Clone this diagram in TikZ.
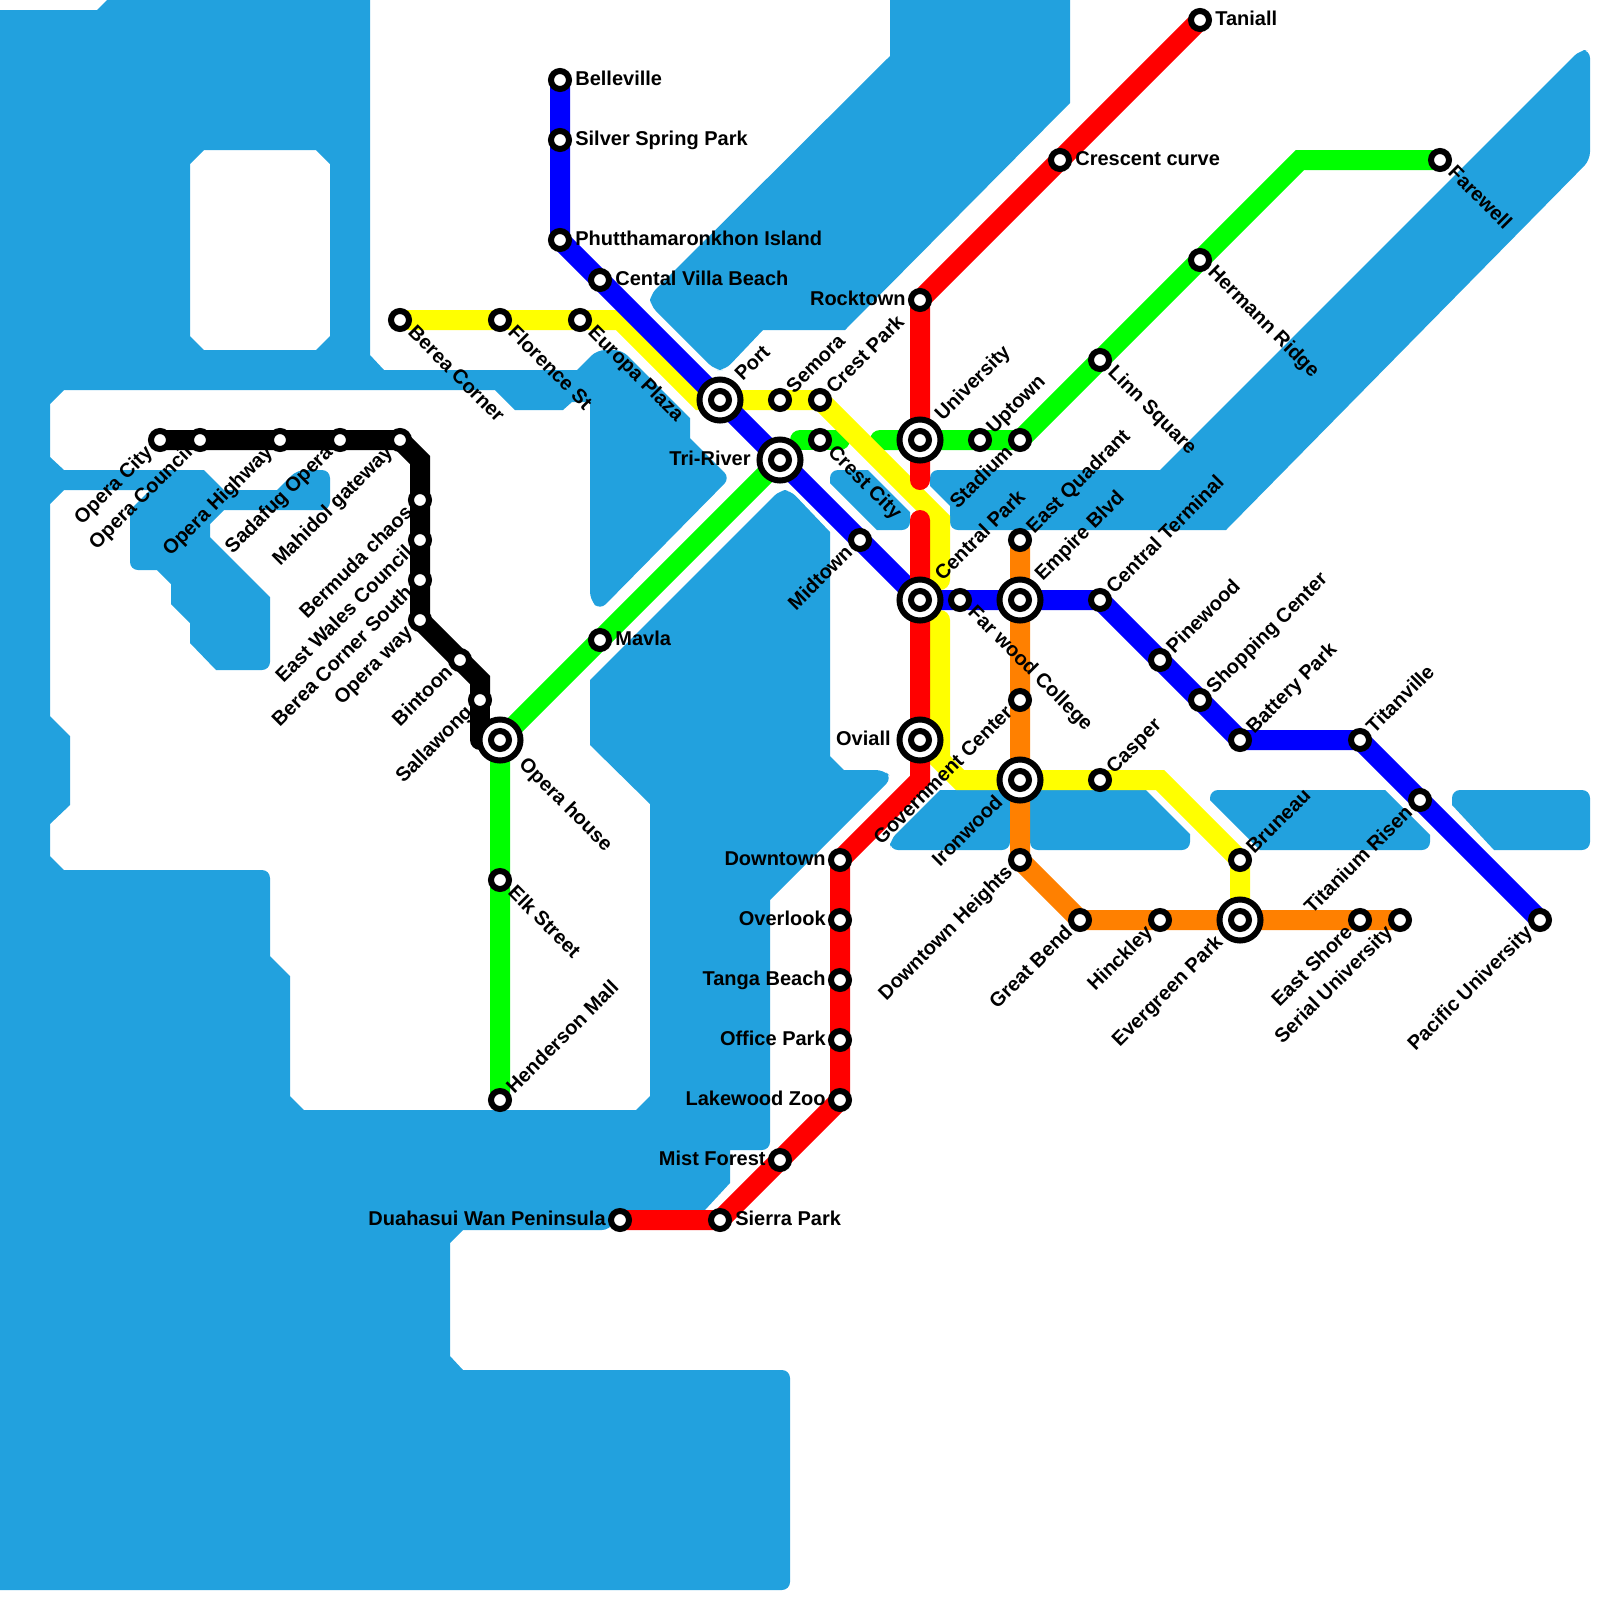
\documentclass[tikz,border=0pt]{standalone}
\usepackage{xcolor}
\usepackage{fontspec}
\setmainfont{Liberation Sans}
\usetikzlibrary{backgrounds}
\definecolor{watercol}{HTML}{22A1DE}
\definecolor{orangeline}{HTML}{FF8000}
\definecolor{yellowline}{HTML}{FFFF00}
\definecolor{redline}{HTML}{FF0000}
\definecolor{greenline}{HTML}{00FF00}
\definecolor{blueline}{HTML}{0000FF}

\begin{document}
\begin{tikzpicture}[x=0.025cm,y=-0.025cm,
    water/.style={fill=watercol,even odd rule},
    rc/.style={rounded corners=0.2cm},
    sc/.style={sharp corners},
    metro/.style={line width=0.5cm,line cap=round},
    stn/.style={circle,draw=black,fill=white,line width=0.15cm,minimum size=0.45cm,inner sep=0pt},
    ringstn/.style={circle,draw=black,fill=white,line width=0.15cm,minimum size=1.025cm,inner sep=0pt},
    lbl/.style={inner sep=0pt,text height=10.3pt,text depth=3pt,font=\bfseries\fontsize{14.23}{17}\selectfont},
    lblE/.style={lbl,anchor=west,xshift=10.7pt},
    lblW/.style={lbl,anchor=east,xshift=-10pt},
    lblWx/.style={lbl,anchor=east,xshift=-20.7pt},
    lblNE/.style={lbl,anchor=west,xshift=7.5pt,yshift=6.5pt,rotate=45},
    lblNEx/.style={lbl,anchor=west,xshift=13.5pt,yshift=15.5pt,rotate=45},
    lblSE/.style={lbl,anchor=west,xshift=7.5pt,yshift=-7pt,rotate=-45},
    lblSEx/.style={lbl,anchor=west,xshift=15.4pt,yshift=-15.4pt,rotate=-45},
    lblSW/.style={lbl,anchor=east,xshift=-7pt,yshift=-7pt,rotate=45},
    lblSWx/.style={lbl,anchor=east,xshift=-14pt,yshift=-14pt,rotate=45}]
\useasboundingbox (0,0) rectangle (1600,1600);

\node[stn] (belleville) at (560,80) {};
\node[lblE] (bellevillelbl) at (belleville) {Belleville};
\node[stn] (silverspring) at (560,140) {};
\node[lblE] (silverspringlbl) at (silverspring) {Silver Spring Park};
\node[stn] (phuttha) at (560,240) {};
\node[lblE] (phutthalbl) at (phuttha) {Phutthamaronkhon Island};
\node[stn] (cental) at (600,280) {};
\node[lblE] (centallbl) at (cental) {Cental Villa Beach};
\node[ringstn] (portring) at (720,400) {};
\node[stn] (port) at (portring) {};
\node[lblNEx] (portlbl) at (port) {Port};
\node[ringstn] (triring) at (780,460) {};
\node[stn] (triver) at (triring) {};
\node[lblWx] (triverlbl) at (triver) {Tri-River};
\node[stn] (midtown) at (860,540) {};
\node[lblSW] (midtownlbl) at (midtown) {Midtown};
\node[ringstn] (centralring) at (920,600) {};
\node[stn] (central) at (centralring) {};
\node[lblNEx] (centrallbl) at (central) {Central Park};
\node[stn] (farwood) at (960,600) {};
\node[lblSE] (farwoodlbl) at (farwood) {Far wood College};
\node[ringstn] (empirering) at (1020,600) {};
\node[stn] (empire) at (empirering) {};
\node[lblNEx] (empirelbl) at (empire) {Empire Blvd};
\node[stn] (terminal) at (1100,600) {};
\node[lblNE] (terminallbl) at (terminal) {Central Terminal};
\node[stn] (pinewood) at (1160,660) {};
\node[lblNE] (pinewoodlbl) at (pinewood) {Pinewood};
\node[stn] (shopping) at (1200,700) {};
\node[lblNE] (shoppinglbl) at (shopping) {Shopping Center};
\node[stn] (battery) at (1240,740) {};
\node[lblNE] (batterylbl) at (battery) {Battery Park};
\node[stn] (titanville) at (1360,740) {};
\node[lblNE] (titanvillelbl) at (titanville) {Titanville};
\node[stn] (titanium) at (1420,800) {};
\node[lblSW] (titaniumlbl) at (titanium) {Titanium Risen};
\node[stn] (pacific) at (1540,920) {};
\node[lblSW] (pacificlbl) at (pacific) {Pacific University};

\node[stn] (operacity) at (160,440) {};
\node[lblSW] (operacitylbl) at (operacity) {Opera City};
\node[stn] (council) at (200,440) {};
\node[lblSW] (councillbl) at (council) {Opera Council};
\node[stn] (highway) at (280,440) {};
\node[lblSW] (highwaylbl) at (highway) {Opera Highway};
\node[stn] (sadafug) at (340,440) {};
\node[lblSW] (sadafuglbl) at (sadafug) {Sadafug Opera};
\node[stn] (mahidol) at (400,440) {};
\node[lblSW] (mahidollbl) at (mahidol) {Mahidol gateway};
\node[stn] (bermuda) at (420,500) {};
\node[lblSW] (bermudalbl) at (bermuda) {Bermuda chaos};
\node[stn] (eastwales) at (420,540) {};
\node[lblSW] (eastwaleslbl) at (eastwales) {East Wales Council};
\node[stn] (bereasouth) at (420,580) {};
\node[lblSW] (bereasouthlbl) at (bereasouth) {Berea Corner South};
\node[stn] (operaway) at (420,620) {};
\node[lblSW] (operawaylbl) at (operaway) {Opera way};
\node[stn] (bintoon) at (460,660) {};
\node[lblSW] (bintoonlbl) at (bintoon) {Bintoon};
\node[stn] (sallawong) at (480,700) {};
\node[lblSW] (sallawonglbl) at (sallawong) {Sallawong};
\node[ringstn] (operaring) at (500,740) {};
\node[stn] (operahouse) at (operaring) {};
\node[lblSEx] (operahouselbl) at (operahouse) {Opera house};
\node[stn] (elk) at (500,880) {};
\node[lblSE] (elklbl) at (elk) {Elk Street};
\node[stn] (henderson) at (500,1100) {};
\node[lblNE] (hendersonlbl) at (henderson) {Henderson Mall};
\node[stn] (mavla) at (600,640) {};
\node[lblE] (mavlalbl) at (mavla) {Mavla};

\node[stn] (bereacorner) at (400,320) {};
\node[lblSE] (bereacornerlbl) at (bereacorner) {Berea Corner};
\node[stn] (florence) at (500,320) {};
\node[lblSE] (florencelbl) at (florence) {Florence St};
\node[stn] (europa) at (580,320) {};
\node[lblSE] (europalbl) at (europa) {Europa Plaza};
\node[stn] (semora) at (780,400) {};
\node[lblNE] (semoralbl) at (semora) {Semora};
\node[stn] (crestpark) at (820,400) {};
\node[lblNE] (crestparklbl) at (crestpark) {Crest Park};
\node[stn] (crestcity) at (820,440) {};
\node[lblSE] (crestcitylbl) at (crestcity) {Crest City};
\node[ringstn] (univring) at (920,440) {};
\node[stn] (university) at (univring) {};
\node[lblNEx] (universitylbl) at (university) {University};
\node[stn] (uptown) at (980,440) {};
\node[lblNE] (uptownlbl) at (uptown) {Uptown};
\node[stn] (stadium) at (1020,440) {};
\node[lblSW] (stadiumlbl) at (stadium) {Stadium};
\node[stn] (linn) at (1100,360) {};
\node[lblSE] (linnlbl) at (linn) {Linn Square};
\node[stn] (hermann) at (1200,260) {};
\node[lblSE] (hermannlbl) at (hermann) {Hermann Ridge};
\node[stn] (farewell) at (1440,160) {};
\node[lblSE] (farewelllbl) at (farewell) {Farewell};

\node[stn] (taniall) at (1200,20) {};
\node[lblE] (tanialllbl) at (taniall) {Taniall};
\node[stn] (crescent) at (1060,160) {};
\node[lblE] (crescentlbl) at (crescent) {Crescent curve};
\node[stn] (rocktown) at (920,300) {};
\node[lblW] (rocktownlbl) at (rocktown) {Rocktown};
\node[ringstn] (oviallring) at (920,740) {};
\node[stn] (oviall) at (oviallring) {};
\node[lblWx] (ovialllbl) at (oviall) {Oviall};
\node[stn] (downtown) at (840,860) {};
\node[lblW] (downtownlbl) at (downtown) {Downtown};
\node[stn] (overlook) at (840,920) {};
\node[lblW] (overlooklbl) at (overlook) {Overlook};
\node[stn] (tanga) at (840,980) {};
\node[lblW] (tangalbl) at (tanga) {Tanga Beach};
\node[stn] (office) at (840,1040) {};
\node[lblW] (officelbl) at (office) {Office Park};
\node[stn] (lakewood) at (840,1100) {};
\node[lblW] (lakewoodlbl) at (lakewood) {Lakewood Zoo};
\node[stn] (mist) at (780,1160) {};
\node[lblW] (mistlbl) at (mist) {Mist Forest};
\node[stn] (sierra) at (720,1220) {};
\node[lblE] (sierralbl) at (sierra) {Sierra Park};
\node[stn] (duahasui) at (620,1220) {};
\node[lblW] (duahasuilbl) at (duahasui) {Duahasui Wan Peninsula};

\node[stn] (eastquad) at (1020,540) {};
\node[lblNE] (eastquadlbl) at (eastquad) {East Quadrant};
\node[stn] (government) at (1020,700) {};
\node[lblSW] (governmentlbl) at (government) {Government Center};
\node[ringstn] (ironring) at (1020,780) {};
\node[stn] (ironwood) at (ironring) {};
\node[lblSWx] (ironwoodlbl) at (ironwood) {Ironwood};
\node[stn] (heights) at (1020,860) {};
\node[lblSW] (heightslbl) at (heights) {Downtown Heights};
\node[stn] (greatbend) at (1080,920) {};
\node[lblSW] (greatbendlbl) at (greatbend) {Great Bend};
\node[stn] (hinckley) at (1160,920) {};
\node[lblSW] (hinckleylbl) at (hinckley) {Hinckley};
\node[ringstn] (evergreenring) at (1240,920) {};
\node[stn] (evergreen) at (evergreenring) {};
\node[lblSWx] (evergreenlbl) at (evergreen) {Evergreen Park};
\node[stn] (eastshore) at (1360,920) {};
\node[lblSW] (eastshorelbl) at (eastshore) {East Shore};
\node[stn] (serial) at (1400,920) {};
\node[lblSW] (seriallbl) at (serial) {Serial University};
\node[stn] (casper) at (1100,780) {};
\node[lblNE] (casperlbl) at (casper) {Casper};
\node[stn] (bruneau) at (1240,860) {};
\node[lblNE] (bruneaulbl) at (bruneau) {Bruneau};

\coordinate (blackA) at (420,460);
\coordinate (blackB) at (480,680);
\coordinate (blackC) at (480,740);
\coordinate (stubA) at (800,440);
\coordinate (stubB) at (840,440);
\coordinate (greenA) at (880,440);
\coordinate (greenB) at (1300,160);
\coordinate (yellowA) at (620,320);
\coordinate (yellowB) at (700,400);
\coordinate (yellowC) at (940,520);
\coordinate (yellowD) at (940,580);
\coordinate (yellowE) at (940,620);
\coordinate (yellowF) at (940,760);
\coordinate (yellowG) at (960,780);
\coordinate (yellowH) at (1160,780);
\coordinate (redA) at (920,480);
\coordinate (redB) at (920,520);
\coordinate (redC) at (920,780);

\begin{scope}[on background layer]
\fill[water] (0,10) -- (97,10) -- (107,0) -- (370,0) -- (370,355) -- (384,370) -- (577,370)
  [rc] -- (597,350) -- (622,350) [sc] -- (690,418) -- (690,438) [rc] -- (730,478) -- (600,610) -- (590,600)
  [sc] -- (590,402) -- (572,402) -- (563,410) -- (515,410) -- (495,390) -- (64,390) -- (50,404) -- (50,457)
  -- (64,470) -- (204,470) -- (224,490) -- (277,490) [rc] -- (297,470) -- (330,470) -- (330,510)
  [sc] -- (224,510) -- (210,524) -- (210,537) -- (270,597) [rc] -- (270,670) [sc] -- (216,670) -- (190,643)
  -- (190,623) -- (171,604) -- (171,584) -- (157,570) [rc] -- (130,570) [sc] -- (130,510) -- (150,490)
  -- (64,490) -- (50,504) -- (50,716) -- (70,736) -- (70,805) -- (50,824) -- (50,856) -- (64,870)
  [rc] -- (270,870) [sc] -- (270,956) -- (290,976) -- (290,1096) -- (304,1110) -- (636,1110) -- (650,1096)
  -- (650,804) -- (590,745) -- (590,680) [rc] -- (780,490) -- (790,490) [sc] -- (830,532) -- (830,756)
  -- (844,770) [rc] -- (884,770) -- (892,778) [sc] -- (770,900) [rc] -- (770,1150) [sc] -- (730,1150) -- (730,1183)
  -- (705,1210) -- (620,1210) [rc] -- (610,1230) [sc] -- (463,1230) -- (450,1243) -- (450,1356)
  -- (463,1370) [rc] -- (790,1370) -- (790,1590) [sc] -- (0,1590) -- cycle
  (204,150) -- (316,150) -- (330,164) -- (330,336) -- (316,350) -- (204,350) -- (190,336) -- (190,164) -- cycle;
\fill[water] (890,0) -- (1070,0) -- (1070,103) -- (845,330) -- (763,330) [rc] -- (725,370) -- (715,370)
  -- (650,305) -- (650,295) [sc] -- (890,56) -- cycle;
\fill[water] (930,486) [rc] -- (930,470) [sc] -- (1160,470) [rc] -- (1580,50) -- (1590,50) -- (1590,160)
  [sc] -- (1226,530) [rc] -- (950,530) [sc] -- (950,506) -- cycle;
\fill[water] (830,483) [rc] -- (830,470) [sc] -- (868,470) -- (910,512) [rc] -- (910,530) [sc] -- (877,530) -- cycle;
\fill[water] (940,790) -- (1010,790) [rc] -- (1010,850) -- (890,850) -- (890,840) [sc] -- cycle;
\fill[water] (1030,790) -- (1146,790) -- (1190,834) [rc] -- (1190,850) -- (1030,850) [sc] -- cycle;
\fill[water] (1210,800) [rc] -- (1210,790) [sc] -- (1385,790) -- (1430,835) [rc] -- (1430,850) [sc] -- (1260,850) -- cycle;
\fill[water] (1452,805) [rc] -- (1452,790) -- (1590,790) -- (1590,850) [sc] -- (1494,850) -- cycle;

\draw[metro,black] (operacity.center) -- (council.center) -- (highway.center) -- (sadafug.center) -- (mahidol.center)
  -- (blackA) -- (bermuda.center) -- (eastwales.center) -- (bereasouth.center) -- (operaway.center)
  -- (bintoon.center) -- (blackB) -- (sallawong.center);
\draw[metro,black,line join=round] (sallawong.center) -- (blackC) -- (operahouse.center);

\draw[metro,greenline] (henderson.center) -- (elk.center) -- (operahouse.center) -- (mavla.center) -- (triver.center);
\draw[metro,greenline] (stubA) -- (crestcity.center) -- (stubB);
\draw[metro,greenline] (greenA) -- (university.center) -- (uptown.center) -- (stadium.center) -- (linn.center)
  -- (hermann.center) -- (greenB) -- (farewell.center);

\draw[metro,yellowline] (bereacorner.center) -- (florence.center) -- (europa.center) -- (yellowA) -- (yellowB)
  -- (port.center) -- (semora.center) -- (crestpark.center) -- (yellowC) -- (yellowD);
\draw[metro,yellowline] (yellowE) -- (yellowF) -- (yellowG) -- (ironwood.center) -- (casper.center) -- (yellowH)
  -- (bruneau.center) -- (evergreen.center);

\draw[metro,blueline] (belleville.center) -- (silverspring.center) -- (phuttha.center) -- (cental.center)
  -- (port.center) -- (triver.center) -- (midtown.center) -- (central.center) -- (farwood.center)
  -- (empire.center) -- (terminal.center) -- (pinewood.center) -- (shopping.center) -- (battery.center)
  -- (titanville.center) -- (titanium.center) -- (pacific.center);

\draw[metro,orangeline] (eastquad.center) -- (empire.center) -- (government.center) -- (ironwood.center)
  -- (heights.center) -- (greatbend.center) -- (hinckley.center) -- (evergreen.center) -- (eastshore.center)
  -- (serial.center);

\draw[metro,redline] (taniall.center) -- (crescent.center) -- (rocktown.center) -- (university.center) -- (redA);
\draw[metro,redline] (redB) -- (central.center) -- (oviall.center) -- (redC) -- (downtown.center) -- (overlook.center)
  -- (tanga.center) -- (office.center) -- (lakewood.center) -- (mist.center) -- (sierra.center) -- (duahasui.center);
\end{scope}
\end{tikzpicture}
\end{document}
